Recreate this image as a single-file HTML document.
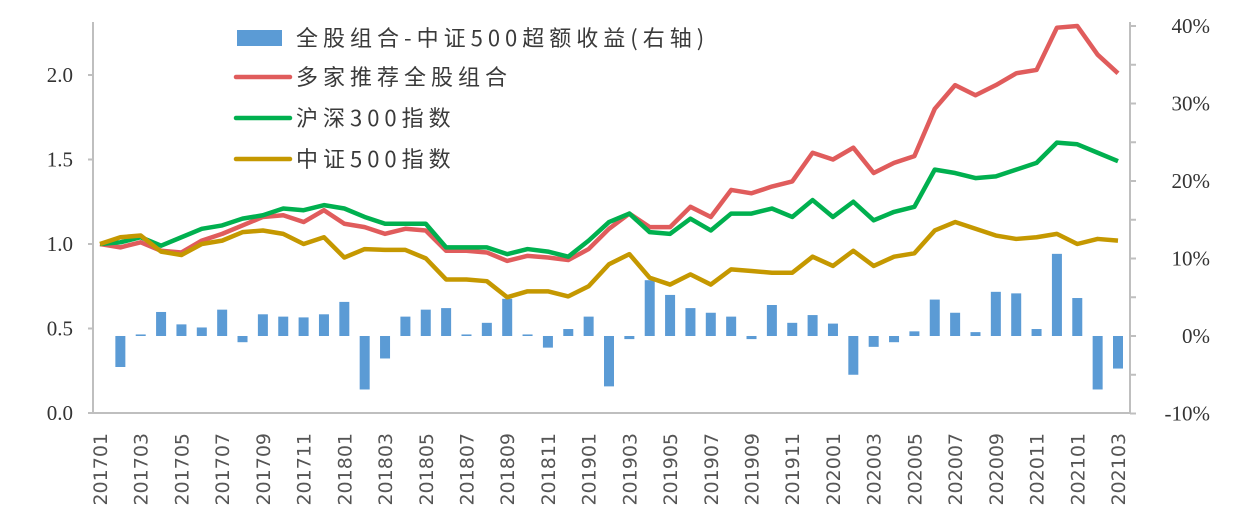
<!DOCTYPE html>
<html><head><meta charset="utf-8"><style>
html,body{margin:0;padding:0;background:#fff;}
svg{display:block;}
text{font-family:"Liberation Serif","Noto Serif CJK SC",serif;fill:#333;}
.leg{font-family:"Noto Sans CJK SC",sans-serif;font-size:22px;letter-spacing:5px;fill:#3a3a3a;}
.xl{font-family:"DejaVu Sans",sans-serif;font-size:19px;fill:#555;}
</style></head><body>
<svg id="chart" width="1236" height="528" xmlns="http://www.w3.org/2000/svg">
<g id="axes"></g><g id="bars"></g><g id="lines"></g><g id="legend"></g>
</svg>
<script>
const categories=[];
for(let y=2017;y<=2021;y++){for(let m=1;m<=12;m++){if(y===2021&&m>3)break;categories.push(y+String(m).padStart(2,'0'));}}
const excessReturn=[0,-4.0,0.2,3.1,1.5,1.1,3.4,-0.8,2.8,2.5,2.4,2.8,4.4,-6.9,-2.9,2.5,3.4,3.6,0.2,1.7,4.8,0.2,-1.5,0.9,2.5,-6.5,-0.4,7.2,5.3,3.6,3.0,2.5,-0.4,4.0,1.7,2.7,1.6,-5.0,-1.4,-0.8,0.6,4.7,3.0,0.5,5.7,5.5,0.9,10.6,4.9,-6.9,-4.2];
const multiFamily=[1.0,0.98,1.01,0.96,0.95,1.02,1.06,1.11,1.16,1.17,1.13,1.20,1.12,1.10,1.06,1.09,1.08,0.96,0.96,0.95,0.90,0.93,0.92,0.905,0.97,1.09,1.18,1.10,1.10,1.22,1.16,1.32,1.30,1.34,1.37,1.54,1.50,1.57,1.42,1.48,1.52,1.80,1.94,1.88,1.94,2.01,2.03,2.28,2.29,2.12,2.01];
const csi300=[1.0,1.01,1.04,0.99,1.04,1.09,1.11,1.15,1.17,1.21,1.20,1.23,1.21,1.16,1.12,1.12,1.12,0.98,0.98,0.98,0.94,0.97,0.955,0.925,1.02,1.13,1.18,1.07,1.06,1.15,1.08,1.18,1.18,1.21,1.16,1.26,1.16,1.25,1.14,1.19,1.22,1.44,1.42,1.39,1.40,1.44,1.48,1.60,1.59,1.54,1.49];
const csi500=[1.0,1.04,1.05,0.955,0.935,1.00,1.02,1.07,1.08,1.06,1.00,1.04,0.92,0.97,0.965,0.965,0.915,0.79,0.79,0.78,0.685,0.72,0.72,0.69,0.75,0.88,0.94,0.80,0.76,0.82,0.76,0.85,0.84,0.83,0.83,0.925,0.87,0.96,0.87,0.925,0.945,1.08,1.13,1.09,1.05,1.03,1.04,1.06,1.00,1.03,1.02];
const leftTicks=["0.0","0.5","1.0","1.5","2.0"];
const rightTicks=["-10%","0%","10%","20%","30%","40%"];

const NS="http://www.w3.org/2000/svg";
const X0=93,X1=1130,YB=413;
const xPos=i=>100+i*(1118-100)/(categories.length-1);
const yL=v=>YB-v*169;
const yR=p=>336-p*7.75;
function mk(tag,attrs,parent){const e=document.createElementNS(NS,tag);for(const k in attrs)e.setAttribute(k,attrs[k]);parent.appendChild(e);return e;}
const axes=document.getElementById('axes');
let a=mk('path',{d:`M${X0},22V${YB}H${X1}V22`,stroke:'#bfbfbf','stroke-width':2,fill:'none'},axes);


leftTicks.forEach(t=>{const v=parseFloat(t);const y=yL(v);
 mk('line',{x1:X0-5,x2:X0,y1:y,y2:y,stroke:'#bfbfbf','stroke-width':2},axes);
 const tx=mk('text',{x:X0-20,y:y+7,'text-anchor':'end','font-size':21},axes);tx.textContent=t;
 
 });
for(let p=-10;p<=40;p+=5){const y=yR(p);mk('line',{x1:X1,x2:X1+6,y1:y,y2:y,stroke:'#bfbfbf','stroke-width':2},axes);}
rightTicks.forEach(t=>{const p=parseFloat(t);const y=yR(p);
 const tx=mk('text',{x:1210,y:y+7,'text-anchor':'end','font-size':21},axes);tx.textContent=t;
 
 });
categories.forEach((c,i)=>{if(i%2)return;const x=xPos(i);
 const tx=mk('text',{x:0,y:0,'text-anchor':'end','class':'xl',transform:`translate(${x+7},${433}) rotate(-90)`},axes);tx.textContent=c;
 
 });
const bars=document.getElementById('bars');
excessReturn.forEach((v,i)=>{if(v===0)return;const y0=yR(0),y1=yR(v);
 const r=mk('rect',{x:xPos(i)-5,y:Math.min(y0,y1),width:10,height:Math.max(1.5,Math.abs(y1-y0)),fill:'#5b9bd5'},bars);
 
 });
const lines=document.getElementById('lines');
[[multiFamily,'#e05c5c','line-multi-family'],[csi300,'#00b04f','line-csi300'],[csi500,'#c59800','line-csi500']].forEach(([d,c,n])=>{
 const p=mk('polyline',{points:d.map((v,i)=>xPos(i)+','+yL(v)).join(' '),fill:'none',stroke:c,'stroke-width':4.5,'stroke-linejoin':'round'},lines);
 
 });
const lg=document.getElementById('legend');
[['全股组合-中证500超额收益(右轴)','bar',38],['多家推荐全股组合','#e05c5c',77],['沪深300指数','#00b04f',118],['中证500指数','#c59800',159]].forEach(([t,c,y],k)=>{
 const g=mk('g',{},lg);
 
 
 if(c==='bar')mk('rect',{x:237,y:y-8,width:45,height:16,fill:'#5b9bd5'},g);
 else mk('line',{x1:236,x2:290,y1:y,y2:y,stroke:c,'stroke-width':4.5,'stroke-linecap':'round'},g);
 const tx=mk('text',{x:296,y:y+8,'class':'leg'},g);tx.textContent=t;});
</script>
</body></html>
